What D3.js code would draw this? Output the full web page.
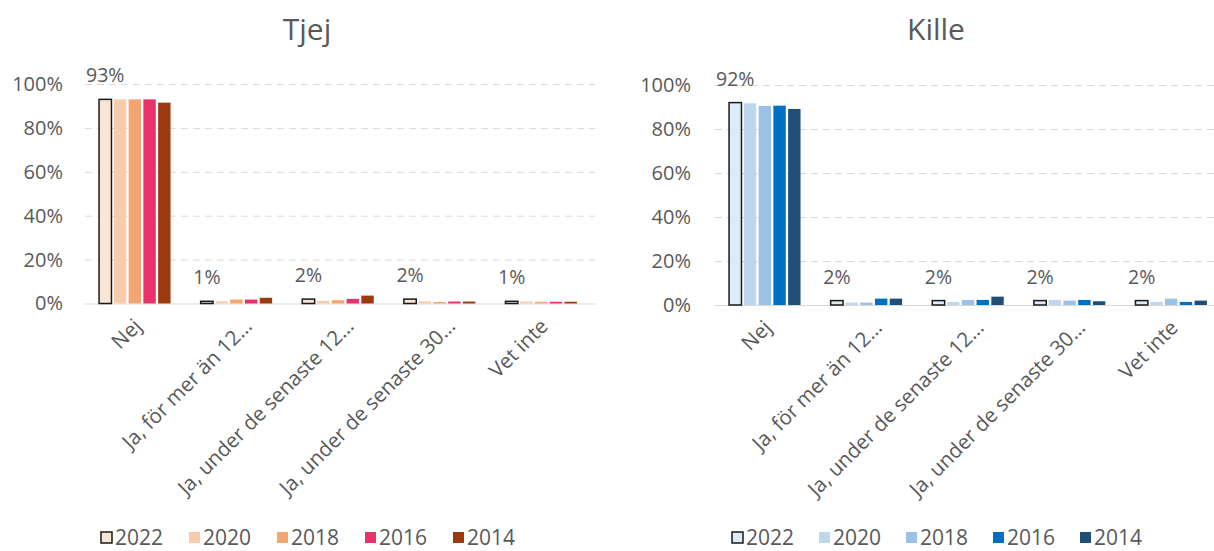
<!DOCTYPE html>
<html lang="sv">
<head>
<meta charset="utf-8">
<script src="https://cdn.jsdelivr.net/npm/d3@7"></script>
<style>
  html, body { margin: 0; padding: 0; background: #ffffff; }
  svg { display: block; font-family: "Open Sans", sans-serif; }
</style>
</head>
<body>
<svg id="chart" width="1214" height="551"></svg>
<script>
// Answer categories (long answers are shown shortened on the axis)
const categories = ["Nej", "Ja, för mer än 12…", "Ja, under de senaste 12…", "Ja, under de senaste 30…", "Vet inte"];
const years = ["2022", "2020", "2018", "2016", "2014"];
const yTicks = [0, 20, 40, 60, 80, 100];

// Tjej, share in percent per category, one array per survey year
const tjej2022 = [93, 1, 2, 2, 1];
const tjej2020 = [93, 1, 1.2, 1, 0.9];
const tjej2018 = [93, 1.8, 1.5, 0.7, 0.8];
const tjej2016 = [93, 1.8, 2.1, 0.9, 0.8];
const tjej2014 = [91.5, 2.6, 3.6, 0.9, 0.8];

// Kille, share in percent per category, one array per survey year
const kille2022 = [92, 2, 2, 2, 2];
const kille2020 = [91.7, 1.1, 1.4, 2.3, 1.4];
const kille2018 = [90.5, 1.1, 2.3, 2, 2.9];
const kille2016 = [90.6, 2.9, 2.3, 2.3, 1.4];
const kille2014 = [89.1, 2.9, 3.8, 1.7, 2];

const tjejColors = ["#FBE5D6", "#F8CBAD", "#F4A672", "#EA316C", "#9B3A0C"];
const killeColors = ["#DDEBF7", "#BDD7EE", "#9BC2E6", "#0070C0", "#1F4E79"];

const svg = d3.select("#chart");
const textColor = "#595959";
const gridColor = "#D9D9D9";

function drawPanel(cfg) {
  const series = cfg.series;
  const g = svg.append("g");

  const x0 = d3.scaleBand().domain(categories).range([cfg.left, cfg.right])
    .paddingInner(0.25).paddingOuter(0.125);
  const x1 = d3.scaleBand().domain(years).range([0, x0.bandwidth()]).padding(0.16);
  const y = d3.scaleLinear().domain([0, 100]).range([cfg.bottom, cfg.top]);

  // title
  g.append("text")
    .attr("x", cfg.titleX).attr("y", cfg.titleY)
    .attr("text-anchor", "middle")
    .attr("font-size", 30).attr("fill", textColor)
    .text(cfg.title);

  // gridlines and percentage ticks
  const yAxis = d3.axisLeft(y).tickValues(yTicks)
    .tickSize(-(cfg.gridRight - cfg.gridLeft)).tickPadding(cfg.gridLeft - cfg.tickRight)
    .tickFormat(d => d + "%");
  const ax = g.append("g").attr("transform", `translate(${cfg.gridLeft},0)`).call(yAxis);
  ax.select(".domain").remove();
  ax.selectAll(".tick line")
    .attr("stroke", gridColor).attr("stroke-width", 1)
    .attr("stroke-dasharray", d => d === 0 ? null : "7,5");
  ax.selectAll(".tick text")
    .attr("fill", textColor).attr("font-size", 20)
    .attr("font-family", "'Open Sans', sans-serif");

  // bars
  const groups = g.selectAll(".grp").data(categories).join("g")
    .attr("transform", d => `translate(${x0(d)},0)`);
  groups.selectAll("rect")
    .data((c, ci) => years.map((yr, si) => ({ yr, si, v: series[si][ci] })))
    .join("rect")
    .attr("x", d => x1(d.yr))
    .attr("width", x1.bandwidth())
    .attr("y", d => y(d.v))
    .attr("height", d => y(0) - y(d.v))
    .attr("fill", d => cfg.colors[d.si])
    .attr("stroke", d => d.si === 0 ? "#1a1a1a" : "none")
    .attr("stroke-width", 1.5);

  // value labels on the 2022 series
  groups.append("text")
    .attr("x", x1("2022") + x1.bandwidth() / 2)
    .attr("y", (c, ci) => y(series[0][ci]) - 17)
    .attr("text-anchor", "middle")
    .attr("font-size", 19.5).attr("fill", textColor)
    .text((c, ci) => Math.round(series[0][ci]) + "%");

  // rotated category labels
  g.selectAll(".cat").data(categories).join("text")
    .attr("transform", d => {
      const cx = x0(d) + x0.bandwidth() / 2 + (d.endsWith("…") ? 17 : 8);
      return `translate(${cx},${cfg.bottom + 24}) rotate(-45)`;
    })
    .attr("text-anchor", "end")
    .attr("font-size", 20.5).attr("fill", textColor)
    .text(d => d);

  // legend
  const leg = g.selectAll(".leg").data(years).join("g")
    .attr("transform", (d, i) => `translate(${cfg.legendX + i * cfg.legendStep},${cfg.legendY})`);
  leg.append("rect")
    .attr("x", 0).attr("y", -6).attr("width", 11).attr("height", 11)
    .attr("fill", (d, i) => cfg.colors[i])
    .attr("stroke", (d, i) => i === 0 ? "#1a1a1a" : "none")
    .attr("stroke-width", 1.5);
  leg.append("text")
    .attr("x", 14).attr("y", 7)
    .attr("font-size", 21).attr("fill", textColor)
    .text(d => d);
}

drawPanel({
  title: "Tjej", titleX: 307, titleY: 40,
  series: [tjej2022, tjej2020, tjej2018, tjej2016, tjej2014],
  colors: tjejColors,
  left: 84, right: 592, top: 84, bottom: 303.5,
  gridLeft: 85, gridRight: 595, tickRight: 63,
  legendX: 101, legendStep: 88, legendY: 538
});

drawPanel({
  title: "Kille", titleX: 936, titleY: 40,
  series: [kille2022, kille2020, kille2018, kille2016, kille2014],
  colors: killeColors,
  left: 714, right: 1222, top: 85, bottom: 305,
  gridLeft: 715, gridRight: 1214, tickRight: 691,
  legendX: 732, legendStep: 87, legendY: 538
});
</script>
</body>
</html>
